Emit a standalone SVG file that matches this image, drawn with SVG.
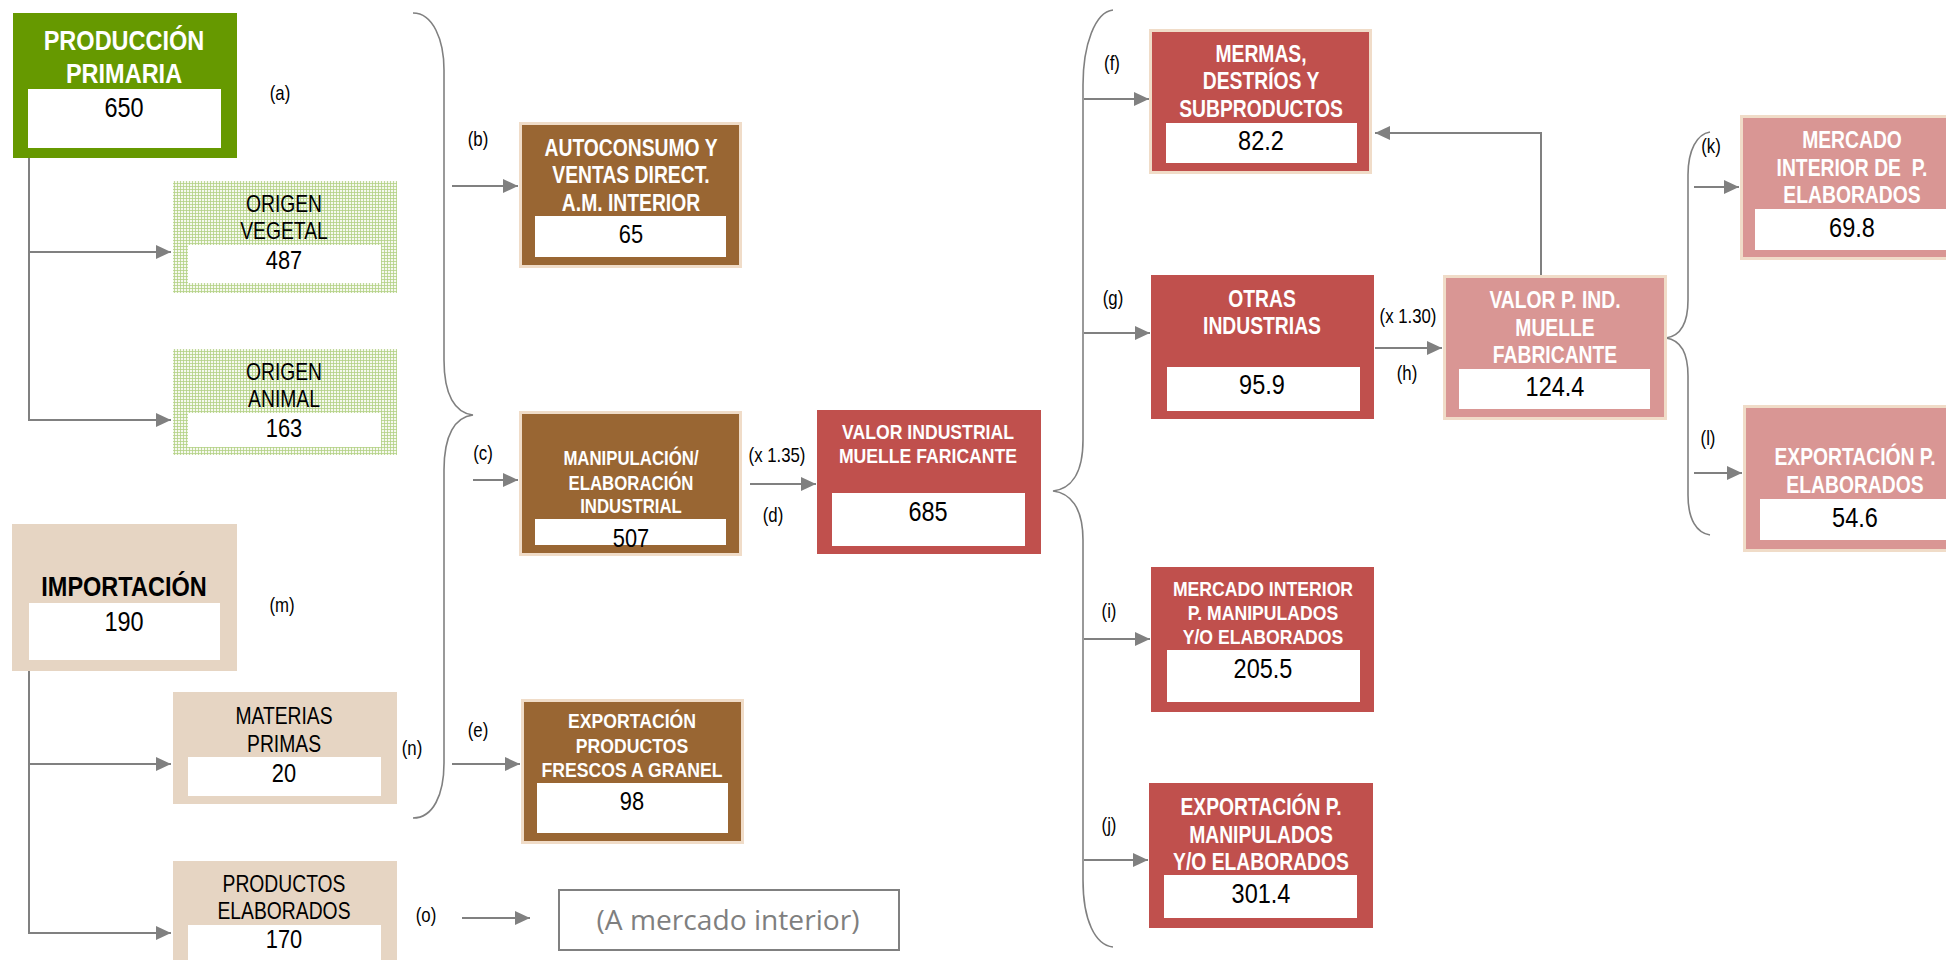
<svg xmlns="http://www.w3.org/2000/svg" width="1946" height="960" viewBox="0 0 1946 960">
<style>
.t{font-family:"Liberation Sans",Arial,sans-serif;text-anchor:middle}
.hw{font-weight:bold;fill:#ffffff}
.hb{font-weight:bold;fill:#000000}
.v{fill:#000000}
.lbl{font-family:"Liberation Sans",Arial,sans-serif;text-anchor:middle;font-size:20px;fill:#000000}
.wh{fill:#ffffff}
.green{fill:#669900}
.grid{fill:url(#grid)}
.beige{fill:#e6d5c3}
.brown{fill:#996633;stroke:#f0dcc8;stroke-width:3}
.red{fill:#c0504d}
.redb{fill:#c0504d;stroke:#f0dcc8;stroke-width:3}
.pink{fill:#d99694;stroke:#f0dcc8;stroke-width:3}
.conn{fill:none;stroke:#808080;stroke-width:2}
.brace{fill:none;stroke:#808080;stroke-width:1.6}
</style>
<defs>
<pattern id="grid" width="3" height="3" patternUnits="userSpaceOnUse">
<rect width="3" height="3" fill="#f6f9ef"/>
<path d="M0 0.5H3M0.5 0V3" stroke="#b3d084" stroke-width="0.8"/>
</pattern>
<marker id="arr" markerUnits="userSpaceOnUse" markerWidth="16" markerHeight="16" refX="15" refY="7" orient="auto">
<path d="M0 0L15 7L0 14z" fill="#808080"/>
</marker>
</defs>
<rect width="1946" height="960" fill="#ffffff"/>

<g id="connectors">
<path class="conn" d="M29 158V252H171" marker-end="url(#arr)"/>
<path class="conn" d="M29 252V420H171" marker-end="url(#arr)"/>
<path class="conn" d="M29 671V764H171" marker-end="url(#arr)"/>
<path class="conn" d="M29 764V933H171" marker-end="url(#arr)"/>
<path class="brace" d="M413 13C433 13 444 40 444 70L444 360C444 395 455 413 473 415C455 417 444 435 444 470L444 763C444 795 433 818 413 818"/>
<path class="conn" d="M452 186H518" marker-end="url(#arr)"/>
<path class="conn" d="M473 480H518" marker-end="url(#arr)"/>
<path class="conn" d="M452 764H520" marker-end="url(#arr)"/>
<path class="conn" d="M462 918H530" marker-end="url(#arr)"/>
<path class="conn" d="M750 484H816" marker-end="url(#arr)"/>
<path class="brace" d="M1113 10C1095 12 1083 45 1083 85L1083 440C1083 475 1070 489 1053 491C1070 493 1083 507 1083 540L1083 880C1083 920 1095 945 1113 947"/>
<path class="conn" d="M1084 99H1149" marker-end="url(#arr)"/>
<path class="conn" d="M1084 333H1150" marker-end="url(#arr)"/>
<path class="conn" d="M1084 639H1150" marker-end="url(#arr)"/>
<path class="conn" d="M1084 860H1148" marker-end="url(#arr)"/>
<path class="conn" d="M1375 348H1442" marker-end="url(#arr)"/>
<path class="conn" d="M1541 275V133H1375" marker-end="url(#arr)"/>
<path class="brace" d="M1710 132C1697 134 1688 150 1688 175L1688 300C1688 325 1680 336 1666 338C1680 340 1688 351 1688 376L1688 495C1688 520 1697 533 1710 535"/>
<path class="conn" d="M1694 187H1739" marker-end="url(#arr)"/>
<path class="conn" d="M1694 473H1742" marker-end="url(#arr)"/>
</g>

<g id="labels">
<text class="lbl" transform="translate(280 100) scale(0.84 1)">(a)</text>
<text class="lbl" transform="translate(478 146) scale(0.84 1)">(b)</text>
<text class="lbl" transform="translate(483 460) scale(0.84 1)">(c)</text>
<text class="lbl" transform="translate(777 462) scale(0.84 1)">(x 1.35)</text>
<text class="lbl" transform="translate(773 522) scale(0.84 1)">(d)</text>
<text class="lbl" transform="translate(478 737) scale(0.84 1)">(e)</text>
<text class="lbl" transform="translate(282 612) scale(0.84 1)">(m)</text>
<text class="lbl" transform="translate(412 755) scale(0.84 1)">(n)</text>
<text class="lbl" transform="translate(426 922) scale(0.84 1)">(o)</text>
<text class="lbl" transform="translate(1112 70) scale(0.84 1)">(f)</text>
<text class="lbl" transform="translate(1113 305) scale(0.84 1)">(g)</text>
<text class="lbl" transform="translate(1109 618) scale(0.84 1)">(i)</text>
<text class="lbl" transform="translate(1109 832) scale(0.84 1)">(j)</text>
<text class="lbl" transform="translate(1408 323) scale(0.84 1)">(x 1.30)</text>
<text class="lbl" transform="translate(1407 380) scale(0.84 1)">(h)</text>
<text class="lbl" transform="translate(1711 153) scale(0.84 1)">(k)</text>
<text class="lbl" transform="translate(1708 445) scale(0.84 1)">(l)</text>
</g>

<g id="n-produccion">
<rect class="green" x="13" y="13" width="224" height="145"/>
<rect class="wh" x="28" y="89" width="193" height="59"/>
<text class="t hw" font-size="28" transform="translate(124 50) scale(0.84 1)"><tspan x="0" y="0">PRODUCCIÓN</tspan><tspan x="0" y="33">PRIMARIA</tspan></text>
<text class="t v" font-size="28" transform="translate(124 117) scale(0.84 1)">650</text>
</g>

<g id="n-vegetal">
<rect class="grid" x="173" y="181" width="224" height="112"/>
<rect class="wh" x="188" y="245" width="193" height="38"/>
<text class="t v" font-size="23" transform="translate(284 212) scale(0.84 1)"><tspan x="0" y="0">ORIGEN</tspan><tspan x="0" y="27">VEGETAL</tspan></text>
<text class="t v" font-size="26" transform="translate(284 269) scale(0.84 1)">487</text>
</g>

<g id="n-animal">
<rect class="grid" x="173" y="349" width="224" height="106"/>
<rect class="wh" x="188" y="413" width="193" height="34"/>
<text class="t v" font-size="23" transform="translate(284 380) scale(0.84 1)"><tspan x="0" y="0">ORIGEN</tspan><tspan x="0" y="27">ANIMAL</tspan></text>
<text class="t v" font-size="26" transform="translate(284 437) scale(0.84 1)">163</text>
</g>

<g id="n-importacion">
<rect class="beige" x="12" y="524" width="225" height="147"/>
<rect class="wh" x="29" y="603" width="191" height="57"/>
<text class="t hb" font-size="28" transform="translate(124 596) scale(0.84 1)">IMPORTACIÓN</text>
<text class="t v" font-size="28" transform="translate(124 631) scale(0.84 1)">190</text>
</g>

<g id="n-materias">
<rect class="beige" x="173" y="692" width="224" height="112"/>
<rect class="wh" x="188" y="757" width="193" height="39"/>
<text class="t v" font-size="23" transform="translate(284 724) scale(0.84 1)"><tspan x="0" y="0">MATERIAS</tspan><tspan x="0" y="28">PRIMAS</tspan></text>
<text class="t v" font-size="26" transform="translate(284 782) scale(0.84 1)">20</text>
</g>

<g id="n-productos">
<rect class="beige" x="173" y="861" width="224" height="102"/>
<rect class="wh" x="188" y="925" width="193" height="40"/>
<text class="t v" font-size="23" transform="translate(284 892) scale(0.84 1)"><tspan x="0" y="0">PRODUCTOS</tspan><tspan x="0" y="27">ELABORADOS</tspan></text>
<text class="t v" font-size="26" transform="translate(284 948) scale(0.84 1)">170</text>
</g>

<g id="n-autoconsumo">
<rect class="brown" x="520.5" y="123.5" width="220" height="143"/>
<rect class="wh" x="535" y="216" width="191" height="41"/>
<text class="t hw" font-size="23" transform="translate(631 156) scale(0.84 1)"><tspan x="0" y="0">AUTOCONSUMO Y</tspan><tspan x="0" y="27">VENTAS DIRECT.</tspan><tspan x="0" y="55">A.M. INTERIOR</tspan></text>
<text class="t v" font-size="26" transform="translate(631 243) scale(0.84 1)">65</text>
</g>

<g id="n-manipulacion">
<rect class="brown" x="520.5" y="412.5" width="220" height="142"/>
<rect class="wh" x="535" y="519" width="191" height="26"/>
<text class="t hw" font-size="20" transform="translate(631 465) scale(0.84 1)"><tspan x="0" y="0">MANIPULACIÓN/</tspan><tspan x="0" y="25">ELABORACIÓN</tspan><tspan x="0" y="48">INDUSTRIAL</tspan></text>
<text class="t v" font-size="26" transform="translate(631 547) scale(0.84 1)">507</text>
</g>

<g id="n-exportfrescos">
<rect class="brown" x="522.5" y="700.5" width="220" height="142"/>
<rect class="wh" x="537" y="783" width="191" height="50"/>
<text class="t hw" font-size="21" transform="translate(632 728) scale(0.84 1)"><tspan x="0" y="0">EXPORTACIÓN</tspan><tspan x="0" y="25">PRODUCTOS</tspan><tspan x="0" y="49">FRESCOS A GRANEL</tspan></text>
<text class="t v" font-size="26" transform="translate(632 810) scale(0.84 1)">98</text>
</g>

<g id="n-valorind">
<rect class="red" x="817" y="410" width="224" height="144"/>
<rect class="wh" x="832" y="493" width="193" height="53"/>
<text class="t hw" font-size="21" transform="translate(928 439) scale(0.84 1)"><tspan x="0" y="0">VALOR INDUSTRIAL</tspan><tspan x="0" y="24">MUELLE FARICANTE</tspan></text>
<text class="t v" font-size="28" transform="translate(928 521) scale(0.84 1)">685</text>
</g>

<g id="n-mermas">
<rect class="redb" x="1150.5" y="30.5" width="220" height="142"/>
<rect class="wh" x="1166" y="123" width="191" height="40"/>
<text class="t hw" font-size="23" transform="translate(1261 62) scale(0.84 1)"><tspan x="0" y="0">MERMAS,</tspan><tspan x="0" y="27">DESTRÍOS Y</tspan><tspan x="0" y="55">SUBPRODUCTOS</tspan></text>
<text class="t v" font-size="28" transform="translate(1261 150) scale(0.84 1)">82.2</text>
</g>

<g id="n-otras">
<rect class="red" x="1151" y="275" width="223" height="144"/>
<rect class="wh" x="1167" y="367" width="193" height="44"/>
<text class="t hw" font-size="23" transform="translate(1262 307) scale(0.84 1)"><tspan x="0" y="0">OTRAS</tspan><tspan x="0" y="27">INDUSTRIAS</tspan></text>
<text class="t v" font-size="28" transform="translate(1262 394) scale(0.84 1)">95.9</text>
</g>

<g id="n-mercint">
<rect class="red" x="1151" y="567" width="223" height="145"/>
<rect class="wh" x="1167" y="650" width="193" height="52"/>
<text class="t hw" font-size="21" transform="translate(1263 596) scale(0.84 1)"><tspan x="0" y="0">MERCADO INTERIOR</tspan><tspan x="0" y="24">P. MANIPULADOS</tspan><tspan x="0" y="48">Y/O ELABORADOS</tspan></text>
<text class="t v" font-size="28" transform="translate(1263 678) scale(0.84 1)">205.5</text>
</g>

<g id="n-exportmanip">
<rect class="red" x="1149" y="783" width="224" height="145"/>
<rect class="wh" x="1164" y="875" width="193" height="43"/>
<text class="t hw" font-size="23" transform="translate(1261 815) scale(0.84 1)"><tspan x="0" y="0">EXPORTACIÓN P.</tspan><tspan x="0" y="28">MANIPULADOS</tspan><tspan x="0" y="55">Y/O ELABORADOS</tspan></text>
<text class="t v" font-size="28" transform="translate(1261 903) scale(0.84 1)">301.4</text>
</g>

<g id="n-valorp">
<rect class="pink" x="1444.5" y="276.5" width="221" height="142"/>
<rect class="wh" x="1459" y="369" width="191" height="40"/>
<text class="t hw" font-size="23" transform="translate(1555 308) scale(0.84 1)"><tspan x="0" y="0">VALOR P. IND.</tspan><tspan x="0" y="28">MUELLE</tspan><tspan x="0" y="55">FABRICANTE</tspan></text>
<text class="t v" font-size="28" transform="translate(1555 396) scale(0.84 1)">124.4</text>
</g>

<g id="n-mercelab">
<rect class="pink" x="1741.5" y="116.5" width="221" height="142"/>
<rect class="wh" x="1755" y="209" width="194" height="41"/>
<text class="t hw" font-size="23" transform="translate(1852 148) scale(0.84 1)"><tspan x="0" y="0">MERCADO</tspan><tspan x="0" y="28">INTERIOR DE&#160; P.</tspan><tspan x="0" y="55">ELABORADOS</tspan></text>
<text class="t v" font-size="28" transform="translate(1852 237) scale(0.84 1)">69.8</text>
</g>

<g id="n-exportelab">
<rect class="pink" x="1744.5" y="406.5" width="221" height="144"/>
<rect class="wh" x="1760" y="499" width="194" height="41"/>
<text class="t hw" font-size="23" transform="translate(1855 465) scale(0.84 1)"><tspan x="0" y="0">EXPORTACIÓN P.</tspan><tspan x="0" y="28">ELABORADOS</tspan></text>
<text class="t v" font-size="28" transform="translate(1855 527) scale(0.84 1)">54.6</text>
</g>

<g id="n-amercado">
<rect x="559" y="890" width="340" height="60" fill="#ffffff" stroke="#808080" stroke-width="2"/>
<text x="728" y="930" font-family="Open Sans, Liberation Sans, sans-serif" font-size="27" fill="#7f7f7f" text-anchor="middle" textLength="263" lengthAdjust="spacingAndGlyphs">(A mercado interior)</text>
</g>
</svg>
